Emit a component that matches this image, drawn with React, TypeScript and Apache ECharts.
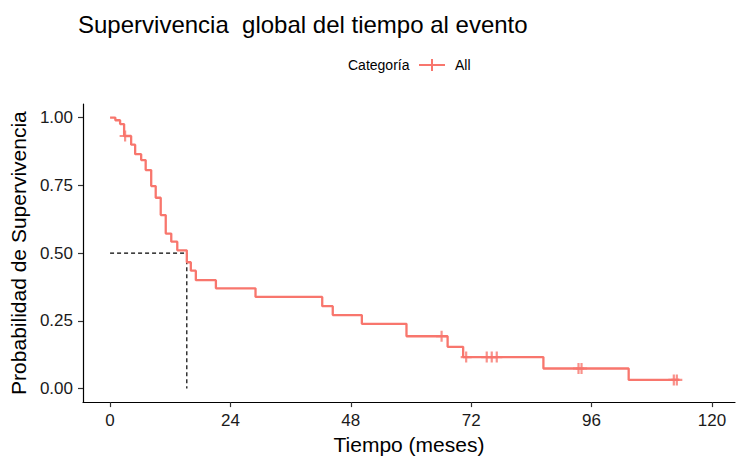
import React, { useEffect, useRef } from "react";
import * as echarts from "echarts";

// Kaplan–Meier step curve: event times (months) and survival right after each step
const stepTimes = [0, 1.05, 2.0, 2.8, 4.2, 5.0, 6.2, 7.1, 8.2, 9.1, 10.1, 11.1, 12.2, 13.4, 15.3, 16.1, 17.1, 21.1, 29.0, 42.3, 44.4, 50.2, 59.1, 67.3, 70.4, 86.4, 103.4, 113.5];
const stepSurv = [1.0, 0.99, 0.976, 0.932, 0.9, 0.865, 0.843, 0.806, 0.747, 0.704, 0.64, 0.572, 0.542, 0.51, 0.466, 0.435, 0.4, 0.37, 0.338, 0.304, 0.271, 0.239, 0.193, 0.154, 0.116, 0.074, 0.032, 0.032];

// Censored observations
const censorTimes = [3.0, 66.1, 71.0, 75.1, 76.1, 77.1, 93.4, 94.0, 112.4, 113.0];
const censorSurv = [0.932, 0.193, 0.116, 0.116, 0.116, 0.116, 0.074, 0.074, 0.032, 0.032];

// Median survival guide
const medianTime = 15.3;
const medianSurv = 0.5;

const xTicks = [0, 24, 48, 72, 96, 120];
const yTicks = [0, 0.25, 0.5, 0.75, 1.0];

const curveColor = "#F8766D";
const font = "'Liberation Sans', Arial, sans-serif";
const plusIcon = "path://M4,0h2v10h-2z M0,4h10v2h-10z";
const legendIcon = "path://M0,5h26v2h-26z M12,0h2v12h-2z";

export default function App() {
  const ref = useRef<HTMLDivElement>(null);

  useEffect(() => {
    document.body.style.margin = "0";
    if (!ref.current) return;
    const chart = echarts.init(ref.current, undefined, { renderer: "svg" });

    const curve = stepTimes.map((t, i) => [t, stepSurv[i]]);
    const censored = censorTimes.map((t, i) => [t, censorSurv[i]]);
    const medianGuide = [
      [0, medianSurv],
      [medianTime, medianSurv],
      [medianTime, 0],
    ];

    chart.setOption({
      animation: false,
      backgroundColor: "#ffffff",
      textStyle: { fontFamily: font },
      title: {
        text: "Supervivencia  global del tiempo al evento",
        left: 73,
        top: 7,
        textStyle: { fontSize: 24, fontWeight: "normal", color: "#000", fontFamily: font },
      },
      graphic: [
        {
          type: "text",
          x: 348,
          y: 65,
          style: {
            text: "Categoría",
            fontSize: 14,
            fontFamily: font,
            fill: "#000",
            verticalAlign: "middle",
          },
        },
      ],
      legend: {
        data: [{ name: "All", icon: legendIcon }],
        left: 419,
        top: 58,
        padding: 0,
        itemWidth: 26,
        itemHeight: 12,
        textStyle: { fontSize: 14, color: "#000", fontFamily: font, padding: [0, 0, 0, 5] },
      },
      grid: { left: 80, right: 1, top: 104, bottom: 56 },
      xAxis: {
        type: "value",
        min: -5.4,
        max: 124.6,
        name: "Tiempo (meses)",
        nameLocation: "middle",
        nameGap: 30,
        nameTextStyle: { fontSize: 21, color: "#000", fontFamily: font },
        axisLine: { show: true, onZero: false, lineStyle: { color: "#000", width: 1.2 } },
        axisTick: { show: true, length: 5, customValues: xTicks, lineStyle: { color: "#333", width: 1.2 } },
        axisLabel: {
          customValues: xTicks,
          margin: 10,
          fontSize: 17,
          color: "#1a1a1a",
          fontFamily: font,
        },
        splitLine: { show: false },
      },
      yAxis: {
        type: "value",
        min: -0.05,
        max: 1.05,
        name: "Probabilidad de Supervivencia",
        nameLocation: "middle",
        nameGap: 51,
        nameTextStyle: { fontSize: 21, color: "#000", fontFamily: font },
        axisLine: { show: true, onZero: false, lineStyle: { color: "#000", width: 1.2 } },
        axisTick: { show: true, length: 5, customValues: yTicks, lineStyle: { color: "#333", width: 1.2 } },
        axisLabel: {
          customValues: yTicks,
          margin: 10,
          fontSize: 17,
          color: "#1a1a1a",
          fontFamily: font,
          formatter: (v: number) => v.toFixed(2),
        },
        splitLine: { show: false },
      },
      series: [
        {
          name: "Mediana",
          type: "line",
          data: medianGuide,
          symbol: "none",
          silent: true,
          lineStyle: { color: "#000", width: 1.2, type: [4, 3] },
          z: 1,
        },
        {
          name: "All",
          type: "line",
          step: "end",
          data: curve,
          symbol: "none",
          itemStyle: { color: curveColor },
          lineStyle: { color: curveColor, width: 2.3 },
          z: 2,
        },
        {
          name: "All",
          type: "scatter",
          data: censored,
          symbol: plusIcon,
          symbolSize: 11,
          itemStyle: { color: curveColor },
          z: 3,
        },
      ],
    });

    return () => chart.dispose();
  }, []);

  return <div ref={ref} style={{ width: 736, height: 460 }} />;
}
